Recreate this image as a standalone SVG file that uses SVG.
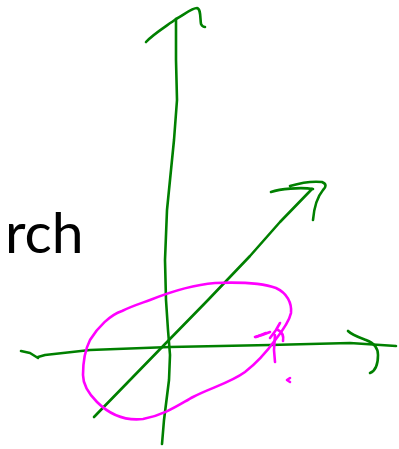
<svg xmlns="http://www.w3.org/2000/svg" width="399" height="449" viewBox="0 0 399 449">
<style>
.g{fill:none;stroke:#008000;stroke-width:2.6;stroke-linecap:round;stroke-linejoin:round}
.m{fill:none;stroke:#ff00ff;stroke-width:2.6;stroke-linecap:round;stroke-linejoin:round}
.t{font-family:Lato,"Open Sans",sans-serif;font-size:57px;fill:#000}
</style>
<rect width="399" height="449" fill="#fff"/>
<text class="t" x="5" y="253">rch</text>
<g id="axes">
<path class="g" d="M162,444 L164,420 L169,380 L170,355 L168,330 L166,300 L165,260 L167,210 L171,170 L174,140 L177,100 L176,60 L176,19"/>
<path class="g" d="M146,42 C152,35 165,27 176,19 C185,14 192,8 197,8 C201,9 200,18 201,24 C202,26 204,27 205,27"/>
<path class="g" d="M38,357 L45,355 L90,350 L170,347 L270,345 L350,343 L396,346"/>
<path class="g" d="M21,351 L30,353 L38,358"/>
<path class="g" d="M348,331 C352,335 358,337 366,340 C374,343 378,348 378,355 C378,364 375,371 370,373"/>
<path class="g" d="M94,417 L130,380 L166,343 L208,300 L250,256 L280,222 L312,189"/>
<path class="g" d="M271,192 C280,189 300,187 313,189 M290,186 C300,183 312,181 322,182 C327,184 326,187 323,190 C318,196 314,208 313,220"/>
</g>
<g id="ellipse">
<path class="m" d="M150,300 C170,292 190,285 215,283 C240,282 262,283 276,288 C287,293 292,303 291,313 C289,322 283,330 276,339 C268,350 258,362 245,372 C230,383 210,388 193,397 C180,404 165,415 143,419 C125,421 110,415 97,402 C88,393 83,385 83,375 C83,362 85,350 90,340 C98,327 110,315 122,311 C132,306 142,303 150,300 Z"/>
<path class="m" d="M255,337 L262,335 L270,332 M270,338 L276,330 L280,323 M275,335 L274,350 L275,362 M278,330 C282,332 284,335 283,341"/>
<path class="m" stroke-width="5" d="M256,337 L266,333"/>
<path class="m" stroke-width="1.8" d="M290,378 L287,380 L290,382"/>
</g>
</svg>
